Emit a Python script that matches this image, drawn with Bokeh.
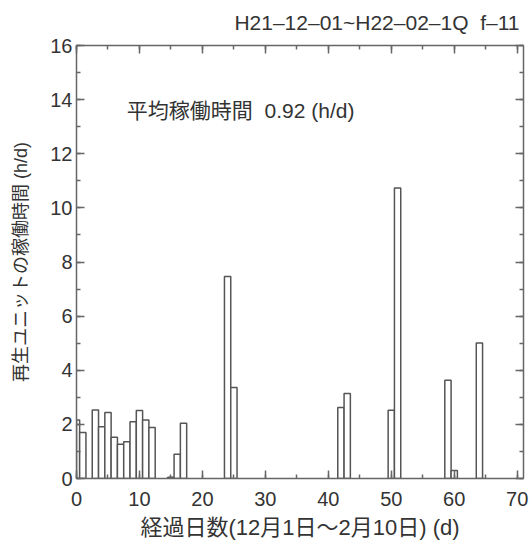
from bokeh.plotting import figure
from bokeh.models import Range1d, LinearAxis, Label, SingleIntervalTicker, Title
from bokeh.embed import file_html
from bokeh.resources import INLINE

# Data (day index, operating hours per day)
days = [0, 1, 3, 4, 5, 6, 7, 8, 9, 10, 11, 12, 15, 16, 17, 24, 25, 42, 43, 50, 51, 59, 60, 64]
hours = [2.16, 1.70, 2.53, 1.91, 2.44, 1.52, 1.27, 1.36, 2.10, 2.51, 2.16, 1.88,
         0.05, 0.90, 2.04, 7.46, 3.36, 2.62, 3.14, 2.52, 10.73, 3.63, 0.30, 5.01]

title_text = "H21\u201312\u201301~H22\u201302\u20131Q\u00a0\u00a0f\u201311"
note_text = "平均稼働時間\u00a0\u00a00.92 (h/d)"
x_label = "経過日数(12月1日～2月10日) (d)"
y_label = "再生ユニットの稼働時間 (h/d)"

FONT = "Liberation Sans, 'Noto Sans CJK JP', sans-serif"
TXT = "#333333"
AX = "#666666"

p = figure(width=532, height=547, x_range=Range1d(0, 71), y_range=Range1d(0, 16),
           output_backend="svg", toolbar_location=None,
           min_border_left=76, min_border_right=9, min_border_top=45, min_border_bottom=69)
p.grid.visible = False
p.outline_line_color = None
p.background_fill_color = "white"
p.border_fill_color = "white"

p.vbar(x=days, top=hours, width=1.0, bottom=0, fill_color="white",
       line_color="#555555", line_width=1.5)

def style(ax, labels=True):
    ax.axis_line_color = AX
    ax.axis_line_width = 1.5
    ax.major_tick_line_color = AX
    ax.minor_tick_line_color = AX
    ax.major_tick_line_width = 1.5
    ax.minor_tick_line_width = 1.5
    ax.major_tick_in = 8
    ax.major_tick_out = 0
    ax.minor_tick_in = 4
    ax.minor_tick_out = 0
    ax.major_label_text_font = FONT
    ax.major_label_text_color = TXT
    ax.major_label_text_font_size = "20px"
    if not labels:
        ax.major_label_text_alpha = 0
        ax.major_label_standoff = 0
    ax.axis_label_text_font = FONT
    ax.axis_label_text_font_style = "normal"
    ax.axis_label_text_color = TXT

p.xaxis.ticker = SingleIntervalTicker(interval=10, num_minor_ticks=2)
p.yaxis.ticker = SingleIntervalTicker(interval=2, num_minor_ticks=2)
style(p.xaxis[0])
style(p.yaxis[0])
p.xaxis.axis_label = x_label
p.yaxis.axis_label = y_label
p.xaxis.axis_label_text_font_size = "22px"
p.yaxis.axis_label_text_font_size = "18px"
p.xaxis.major_label_standoff = 13
p.xaxis.axis_label_standoff = 6
p.yaxis.major_label_standoff = 4
p.yaxis.axis_label_standoff = 16

right_ax = LinearAxis(ticker=SingleIntervalTicker(interval=2, num_minor_ticks=2),
                      major_label_overrides={i: "" for i in range(0, 17)})
style(right_ax, labels=False)
p.add_layout(right_ax, "right")
top_ax = LinearAxis(ticker=SingleIntervalTicker(interval=10, num_minor_ticks=2),
                    major_label_overrides={i: "" for i in range(0, 71, 10)})
style(top_ax, labels=False)
p.add_layout(top_ax, "above")

p.title = Title(text=title_text, align="right", vertical_align="top", text_font=FONT,
                text_font_size="21px", text_font_style="normal", text_color=TXT,
                offset=4, standoff=20)
p.title_location = "above"

p.add_layout(Label(x=8.0, y=13.6, text=note_text, text_align="left",
                   text_baseline="middle", text_font=FONT, text_font_size="21px",
                   text_color=TXT))

open("out.html", "w").write(file_html(p, INLINE))
